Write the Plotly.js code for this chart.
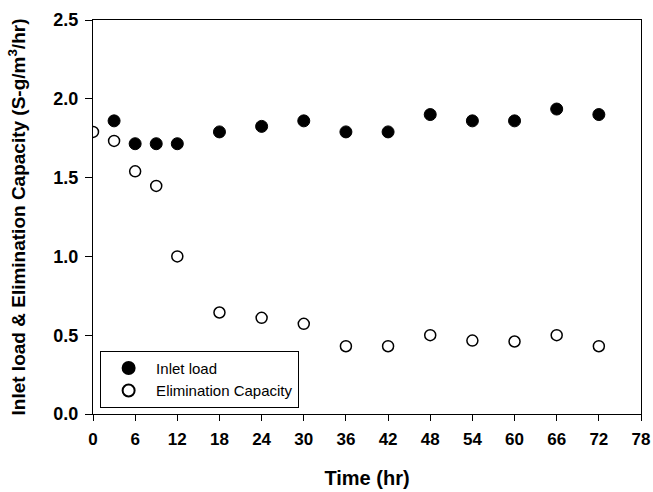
<!DOCTYPE html>
<html><head><meta charset="utf-8">
<script src="https://cdn.plot.ly/plotly-3.0.1.min.js"></script>
<style>html,body{margin:0;padding:0;background:#fff}#chart{width:653px;height:492px}</style>
</head><body><div id="chart"></div>
<script>
const inletTime = [3, 6, 9, 12, 18, 24, 30, 36, 42, 48, 54, 60, 66, 72];
const inletLoad = [1.86, 1.715, 1.715, 1.715, 1.79, 1.825, 1.86, 1.79, 1.79, 1.90, 1.86, 1.86, 1.935, 1.90];
const ecTime = [0, 3, 6, 9, 12, 18, 24, 30, 36, 42, 48, 54, 60, 66, 72];
const ecValue = [1.79, 1.733, 1.54, 1.447, 1.0, 0.644, 0.61, 0.572, 0.43, 0.43, 0.50, 0.466, 0.46, 0.50, 0.43];
const xTicks = [0, 6, 12, 18, 24, 30, 36, 42, 48, 54, 60, 66, 72, 78];
const yTicks = [0, 0.5, 1.0, 1.5, 2.0, 2.5];

const F = 'Liberation Sans, Arial, sans-serif';
const traces = [
  {x: inletTime, y: inletLoad, type: 'scatter', mode: 'markers', name: 'Inlet load',
   marker: {symbol: 'circle', size: 12, color: '#000', line: {color: '#000', width: 1}}},
  {x: ecTime, y: ecValue, type: 'scatter', mode: 'markers', name: 'Elimination Capacity',
   marker: {symbol: 'circle', size: 11, color: '#fff', line: {color: '#000', width: 1.5}}}
];
const layout = {
  width: 653, height: 492,
  margin: {l: 93, r: 12, t: 20, b: 78},
  paper_bgcolor: '#fff', plot_bgcolor: '#fff',
  showlegend: true,
  legend: {x: 0.013, y: 0.016, xanchor: 'left', yanchor: 'bottom',
           bordercolor: '#000', borderwidth: 1, bgcolor: '#fff',
           font: {family: F, size: 15, color: '#000'}, itemsizing: 'constant',
           itemwidth: 45, tracegroupgap: 0},
  xaxis: {range: [0, 78], tickvals: xTicks, ticktext: xTicks.map(v => '<b>' + v + '</b>'),
          showgrid: false, zeroline: false, showline: true, linecolor: '#000', linewidth: 1,
          mirror: true, ticks: 'outside', ticklen: 6, tickcolor: '#000', ticklabelstandoff: 4,
          tickfont: {family: F, size: 17, color: '#000'},
          title: {text: '<b>Time (hr)</b>', font: {family: F, size: 20, color: '#000'}, standoff: 22}},
  yaxis: {range: [0, 2.5], tickvals: yTicks, ticktext: yTicks.map(v => '<b>' + v.toFixed(1) + '</b>'),
          showgrid: false, zeroline: false, showline: true, linecolor: '#000', linewidth: 1,
          mirror: true, ticks: 'outside', ticklen: 7, tickcolor: '#000', ticklabelstandoff: 3,
          tickfont: {family: F, size: 18, color: '#000'},
          title: {text: '<b>Inlet load &amp; Elimination Capacity (S-g/m<sup>3</sup>/hr)</b>',
                  font: {family: F, size: 19, color: '#000'}, standoff: 22}}
};
Plotly.newPlot('chart', traces, layout, {staticPlot: true});
</script></body></html>
